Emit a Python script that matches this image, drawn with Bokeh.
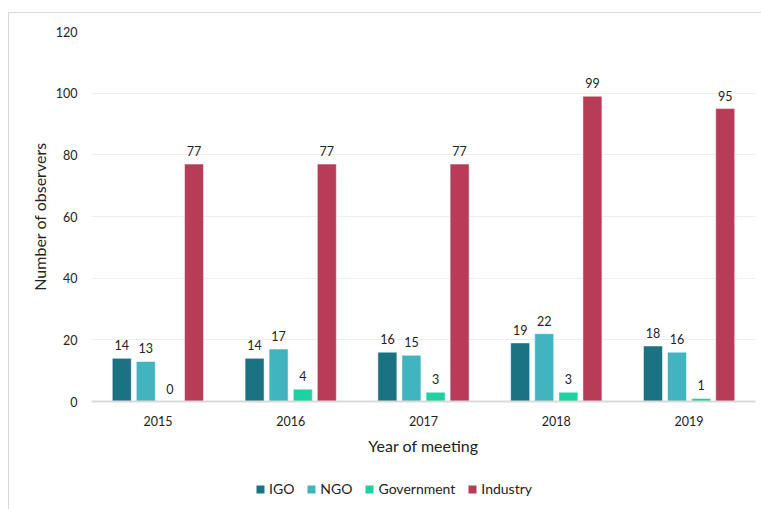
from bokeh.plotting import figure
from bokeh.layouts import column
from bokeh.models import ColumnDataSource, FactorRange, Range1d, Legend, LegendItem, FixedTicker
from bokeh.transform import dodge
from bokeh.core.properties import value
from bokeh.embed import file_html
from bokeh.resources import INLINE

years = ["2015", "2016", "2017", "2018", "2019"]
igo = [14, 14, 16, 19, 18]
ngo = [13, 17, 15, 22, 16]
government = [0, 4, 3, 3, 1]
industry = [77, 77, 77, 99, 95]
series_names = ["IGO", "NGO", "Government", "Industry"]
series_keys = ["igo", "ngo", "government", "industry"]
colors = ["#1b7282", "#42b4c0", "#1dd1a1", "#b83b57"]
y_ticks = [0, 20, 40, 60, 80, 100, 120]

data = dict(years=years, igo=igo, ngo=ngo, government=government, industry=industry)
for k in series_keys:
    data[k + "_lbl"] = [str(v) for v in data[k]]
src = ColumnDataSource(data)

FONT = "Lato"
W = 752
p = figure(x_range=FactorRange(*years), y_range=Range1d(0, 120),
           width=W, height=450, output_backend="svg", toolbar_location=None,
           min_border_left=82, min_border_right=6, min_border_top=18, min_border_bottom=62)
p.outline_line_color = None

offsets = [-0.272, -0.091, 0.091, 0.272]
for key, name, col, off in zip(series_keys, series_names, colors, offsets):
    p.vbar(x=dodge("years", off, range=p.x_range), top=key, width=0.143, source=src,
           fill_color=col, line_color="white", line_alpha=0.5, line_width=1)
    p.text(x=dodge("years", off, range=p.x_range), y=key, text=key + "_lbl", source=src,
           text_font=value(FONT), text_font_size="12.5px", text_color="#222222",
           text_align="center", text_baseline="bottom", y_offset=-8)

p.xgrid.grid_line_color = None
p.ygrid.grid_line_color = "#eeeeee"
p.ygrid.grid_line_width = 1

p.yaxis.ticker = FixedTicker(ticks=y_ticks)
p.yaxis.axis_line_color = None
p.yaxis.major_tick_line_color = None
p.yaxis.minor_tick_line_color = None
p.yaxis.major_tick_out = 0
p.yaxis.major_label_standoff = 14
p.yaxis.axis_label = "Number of observers"
p.yaxis.axis_label_standoff = 4

p.xaxis.axis_line_color = "#d9d9d9"
p.xaxis.axis_line_width = 2
p.xaxis.major_tick_line_color = None
p.xaxis.major_tick_out = 0
p.xaxis.major_label_standoff = 14
p.xaxis.axis_label = "Year of meeting"
p.xaxis.axis_label_standoff = 7

for ax in (p.xaxis, p.yaxis):
    ax.major_label_text_font = FONT
    ax.major_label_text_font_size = "12.5px"
    ax.major_label_text_color = "#222222"
    ax.axis_label_text_font = FONT
    ax.axis_label_text_font_size = "16px"
    ax.axis_label_text_font_style = "normal"
    ax.axis_label_text_color = "#222222"

# legend strip below the chart (its frame is aligned with the chart's frame by the column)
p2 = figure(width=W, height=46, output_backend="svg", toolbar_location=None,
            x_range=Range1d(0, 1), y_range=Range1d(0, 1), min_border=0,
            min_border_left=0, min_border_right=0, min_border_top=0, min_border_bottom=0,
            x_axis_location=None, y_axis_location=None)
p2.grid.visible = False
p2.outline_line_color = None
items = []
for name, col in zip(series_names, colors):
    # zero-height placeholder bar: only its legend swatch is visible
    r = p2.vbar(x=[0], top=[0], bottom=[0], width=0.01, fill_color=col, line_color=None)
    items.append(LegendItem(label=name, renderers=[r]))
legend = Legend(items=items, orientation="horizontal", location=(164, 12),
                label_text_font=FONT, label_text_font_size="14px", label_text_color="#222222",
                glyph_width=10, glyph_height=10, label_standoff=4, spacing=12,
                border_line_color=None, background_fill_alpha=0, padding=0, margin=0,
                label_height=16)
p2.add_layout(legend, "center")

layout = column(p, p2, spacing=0)
layout.styles = {"border-left": "1px solid #d9d9d9", "border-top": "1px solid #d9d9d9",
                 "margin-left": "8px", "margin-top": "12px"}

open("out.html", "w").write(file_html(layout, INLINE))
